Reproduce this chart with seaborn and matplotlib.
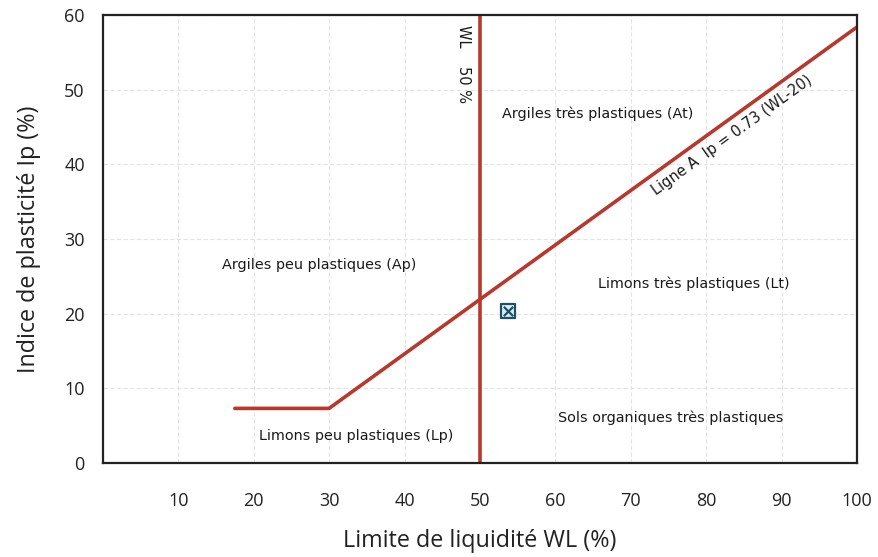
import numpy as np
import pandas as pd
import matplotlib
matplotlib.use("Agg")
import matplotlib.pyplot as plt
import seaborn as sns

# Données du diagramme de Casagrande
aline_wl = [17.5, 30, 100]      # Ligne A (avec palier horizontal)
aline_ip = [7.3, 7.3, 58.4]
wl50_wl = [50, 50]               # Limite WL = 50 %
wl50_ip = [0, 60]
sample_wl = [53.7]               # Echantillon
sample_ip = [20.4]

x_ticks = [10, 20, 30, 40, 50, 60, 70, 80, 90, 100]
y_ticks = [0, 10, 20, 30, 40, 50, 60]

zones = ["Argiles très plastiques (At)", "Argiles peu plastiques (Ap)",
         "Limons très plastiques (Lt)", "Limons peu plastiques (Lp)",
         "Sols organiques très plastiques"]
zones_wl = [65.6, 28.7, 78.4, 33.6, 75.3]
zones_ip = [46.8, 26.5, 24.0, 3.6, 6.1]

sns.set_theme(style="whitegrid")
plt.rcParams['font.family'] = ['Open Sans', 'DejaVu Sans']

fig = plt.figure(figsize=(8.79, 5.57), dpi=100)
ax = fig.add_axes([0.117, 0.169, 0.858, 0.804])

rouge = "#b8382e"
df_a = pd.DataFrame({"WL": aline_wl, "Ip": aline_ip})
sns.lineplot(data=df_a, x="WL", y="Ip", sort=False, estimator=None,
             color=rouge, linewidth=2.6, ax=ax)
df_v = pd.DataFrame({"WL": wl50_wl, "Ip": wl50_ip})
sns.lineplot(data=df_v, x="WL", y="Ip", sort=False, estimator=None,
             color=rouge, linewidth=2.6, ax=ax)

# point mesuré : carré avec croix
df_s = pd.DataFrame({"WL": sample_wl, "Ip": sample_ip})
sns.scatterplot(data=df_s, x="WL", y="Ip", marker="s", s=100,
                color="#d8f0f4", edgecolor="#1f4f66", linewidth=1.6, ax=ax, zorder=5)
sns.scatterplot(data=df_s, x="WL", y="Ip", marker="x", s=45,
                color="#1f4f66", linewidth=1.6, ax=ax, zorder=6)

ax.set_xlim(0, 100)
ax.set_ylim(0, 60)
ax.set_xticks(x_ticks)
ax.set_yticks(y_ticks)
ax.tick_params(axis="x", pad=15, labelsize=13, colors="#222222")
ax.tick_params(axis="y", pad=7, labelsize=13, colors="#222222")
ax.grid(True, color="#e4e4e4", linestyle=(0, (4, 2)), linewidth=0.8)
for sp in ax.spines.values():
    sp.set_color("#222222")
    sp.set_linewidth(1.6)

ax.set_xlabel("Limite de liquidité WL (%)", fontsize=16.8, labelpad=14, color="#222222")
ax.set_ylabel("Indice de plasticité Ip (%)", fontsize=16.8, labelpad=17, color="#222222")

for txt, x, y in zip(zones, zones_wl, zones_ip):
    ax.text(x, y, txt, fontsize=10.4, ha="center", va="center", color="#1a1a1a",
            family=["DejaVu Sans"])

ax.text(47.8, 53.5, "WL    50 %", rotation=-90, fontsize=10.5, ha="center",
        va="center", color="#1a1a1a", family=["DejaVu Sans"])

# texte de la ligne A, aligné sur la pente
p1 = ax.transData.transform((30, 7.3))
p2 = ax.transData.transform((100, 58.4))
ang = np.degrees(np.arctan2(p2[1] - p1[1], p2[0] - p1[0]))
ax.text(83.4, 43.9, "Ligne A  Ip = 0.73 (WL-20)", rotation=ang, fontsize=10.5,
        ha="center", va="center", rotation_mode="anchor", color="#1a1a1a",
        family=["DejaVu Sans"])

fig.savefig("out.png", dpi=100)
